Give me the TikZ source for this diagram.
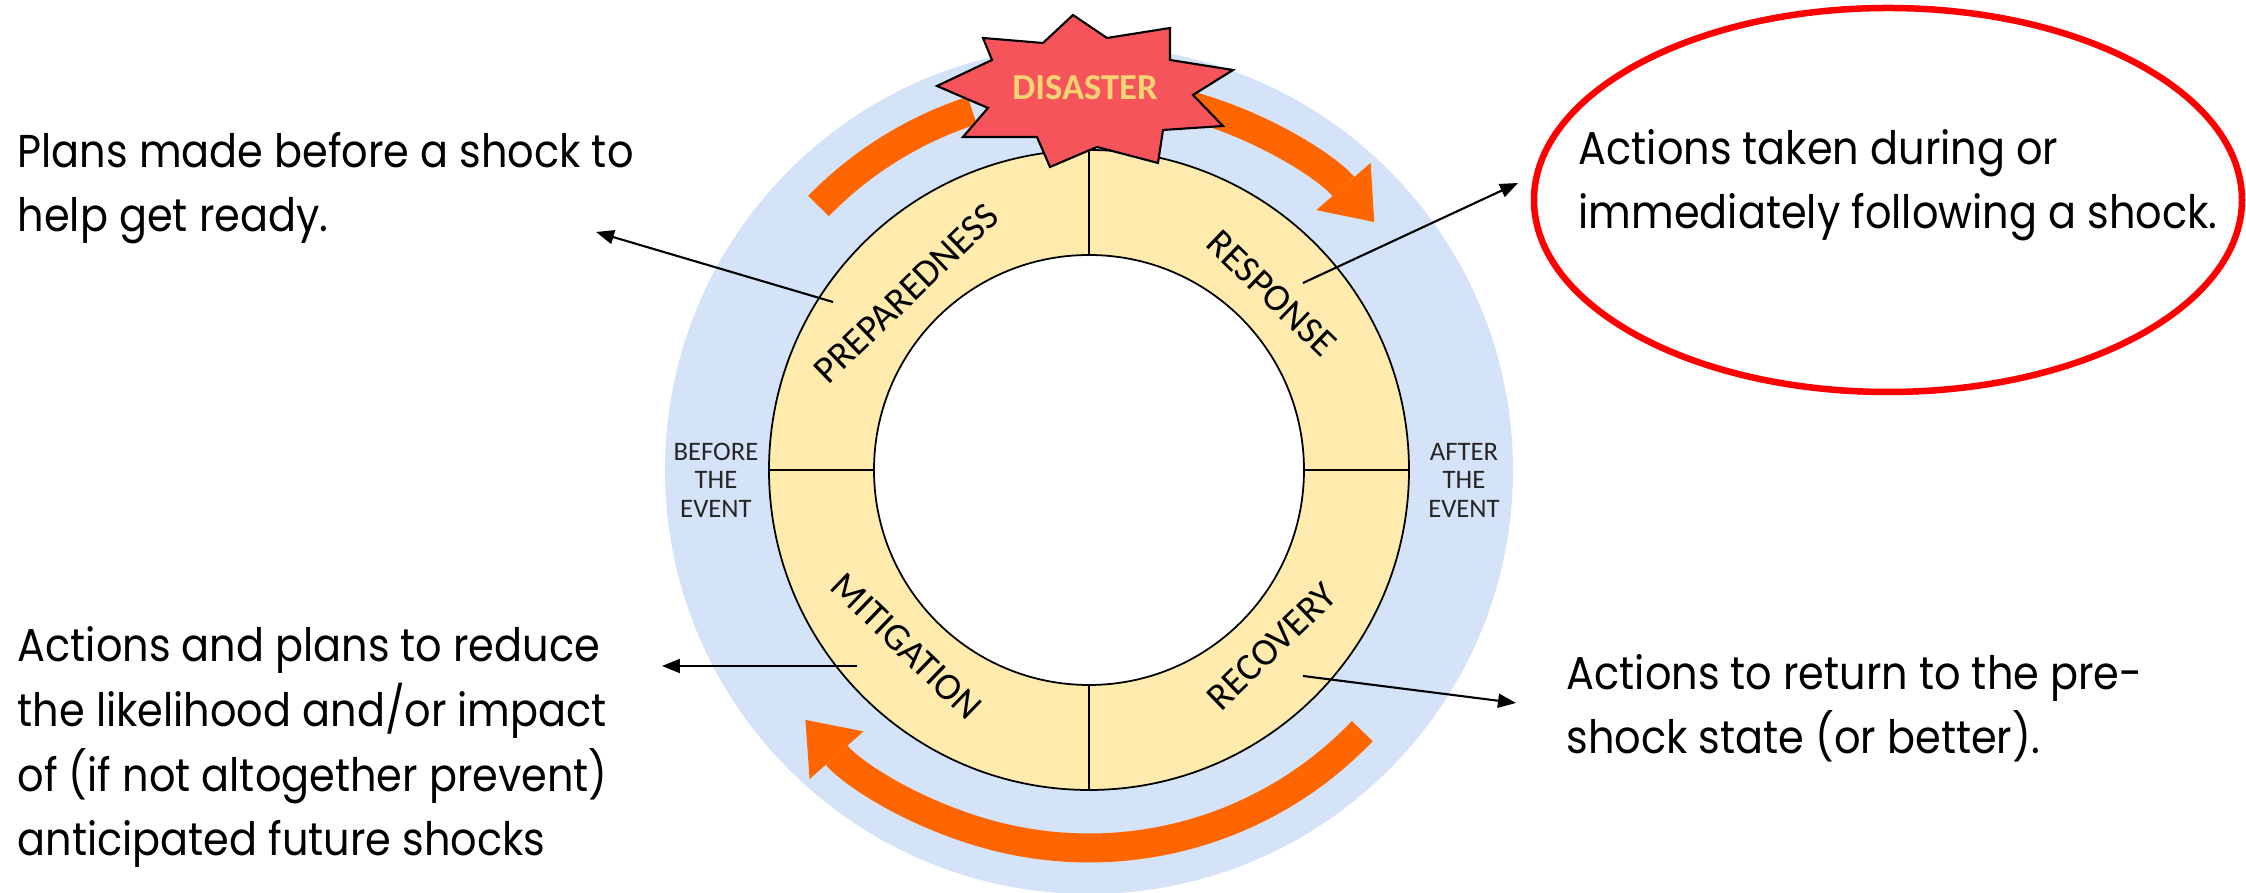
\documentclass[tikz,border=0pt]{standalone}
\usepackage{fontspec}
\setmainfont{Poppins}[FakeStretch=0.9]
\newfontfamily\ringfont{Carlito}
\usetikzlibrary{arrows.meta}

\definecolor{eventblue}{HTML}{D5E3F9}
\definecolor{ringyellow}{HTML}{FEEBAD}
\definecolor{bandorange}{HTML}{FF6600}
\definecolor{starred}{HTML}{F5545A}
\definecolor{stargold}{HTML}{F6D373}

\begin{document}
\begin{tikzpicture}[
			phase/.style={font=\ringfont\fontsize{10.9pt}{12pt}\selectfont, inner sep=0pt},
			side/.style={font=\ringfont\fontsize{7.6pt}{8.1pt}\selectfont, align=center, inner sep=0pt, text=black!85},
			note/.style={anchor=base west, inner sep=0pt, align=left, font=\fontsize{13.1pt}{18.4pt}\selectfont},
			pointer/.style={-{Triangle[length=1.8mm, width=1.4mm]}, line width=0.6pt},
			loopband/.style={draw=bandorange, line width=2.9mm},
			bandhead/.style={-{Triangle[length=4.7mm, width=7.2mm, line width=0pt]}},
		]
		\useasboundingbox (-10.89,-4.23) rectangle (11.57,4.70);

		% rings
		\fill[eventblue] (0,0) circle[radius=4.24];
		\fill[white] (0,0) circle[radius=2.15];
		\draw[fill=ringyellow, even odd rule, line width=0.5pt] (0,0) circle[radius=3.20] (0,0) circle[radius=2.15];
		\draw[line width=0.5pt] (0,2.15) -- (0,3.20) (0,-2.15) -- (0,-3.20) (2.15,0) -- (3.20,0) (-2.15,0) -- (-3.20,0);

		% orange arrows
		\draw[loopband] (135.7:3.78) arc[start angle=135.7, end angle=108, radius=3.78];
		\draw[loopband, bandhead] (75:3.78) arc[start angle=75, end angle=41, radius=3.78];
		\draw[loopband, bandhead] (-43.7:3.78) arc[start angle=-43.7, end angle=-138.6, radius=3.78];

		% disaster star
		\draw[fill=starred, line width=0.6pt] (-1.06,4.32) -- (-0.46,4.27) -- (-0.16,4.55) -- (0.18,4.32) -- (0.81,4.42) -- (0.81,4.10)
			-- (1.44,4.00) -- (1.04,3.75) -- (1.34,3.44) -- (0.74,3.40) -- (0.69,3.07) -- (0.08,3.23) -- (-0.39,3.03)
			-- (-0.52,3.33) -- (-1.26,3.33) -- (-1.01,3.62) -- (-1.52,3.84) -- (-0.97,4.10) -- cycle;
		\node[font=\ringfont\bfseries\fontsize{10.4pt}{12pt}\selectfont, text=stargold, inner sep=0pt] (disaster) at (-0.04,3.82) {DISASTER};

		% phases
		\node[phase, rotate=44] (prep) at (136:2.54) {PREPAREDNESS};
		\node[phase, rotate=-44] (resp) at (44:2.54) {RESPONSE};
		\node[phase, rotate=-44] (mitig) at (-136:2.54) {MITIGATION};
		\node[phase, rotate=44] (recov) at (-44:2.54) {RECOVERY};

		\node[side] (before) at (-3.73,-0.10) {BEFORE\\THE\\EVENT};
		\node[side] (after) at (3.75,-0.10) {AFTER\\THE\\EVENT};

		% notes (anchored on their last line)
		\node[note] (plannote) at (-10.72,2.38) {Plans made before a shock to\\help get ready.};
		\node[note] (respnote) at (4.89,2.41) {Actions taken during or\\immediately following a shock.};
		\node[note] (mitnote) at (-10.72,-3.86) {Actions and plans to reduce\\the likelihood and/or impact\\of (if not altogether prevent)\\anticipated future shocks};
		\node[note] (recnote) at (4.77,-2.84) {Actions to return to the pre-\\shock state (or better).};

		\draw[red, line width=0.065cm] (7.99,2.70) ellipse[x radius=3.54, y radius=1.92];

		% pointers
		\coordinate (prepfrom) at (-2.56,1.68);
		\coordinate (prepto) at (-4.93,2.38);
		\coordinate (respfrom) at (2.14,1.87);
		\coordinate (respto) at (4.29,2.87);
		\coordinate (mitfrom) at (-2.32,-1.96);
		\coordinate (mitto) at (-4.27,-1.96);
		\coordinate (recfrom) at (2.14,-2.06);
		\coordinate (recto) at (4.27,-2.33);

		\draw[pointer] (prepfrom) -- (prepto);
		\draw[pointer] (respfrom) -- (respto);
		\draw[pointer] (mitfrom) -- (mitto);
		\draw[pointer] (recfrom) -- (recto);

		\end{tikzpicture}
\end{document}
